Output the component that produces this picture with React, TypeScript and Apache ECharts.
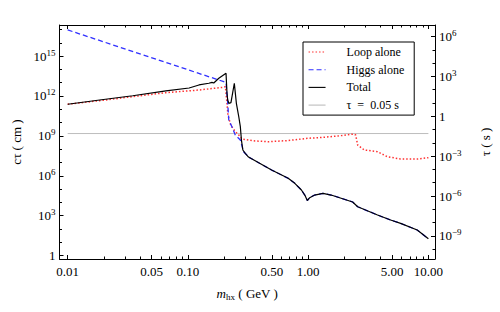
import React, { useEffect, useRef } from 'react';
import * as echarts from 'echarts';

const FONT = '"Liberation Serif", "Times New Roman", serif';

// physical constants used for the secondary axis and the cut line
const C_CM_PER_S = 2.998e10;
const LOG_C = Math.log10(C_CM_PER_S);
const TAU_CUT_S = 0.05;

// points are [log10(m_hx / GeV), log10(c*tau / cm)]
const loopPoints: number[][] = [
  [-2.0, 11.38], [-1.734, 11.65], [-1.459, 11.95], [-1.183, 12.25], [-0.908, 12.45],
  [-0.702, 12.66], [-0.688, 12.7], [-0.683, 12.2], [-0.675, 11.45], [-0.667, 10.57],
  [-0.644, 9.82], [-0.611, 9.37], [-0.577, 9.07], [-0.551, 8.77], [-0.441, 8.62],
  [-0.331, 8.56], [-0.166, 8.65], [-0.001, 8.82], [0.082, 8.86], [0.247, 8.99],
  [0.379, 9.14], [0.395, 9.07], [0.412, 8.31], [0.467, 7.94], [0.577, 7.81],
  [0.659, 7.43], [0.769, 7.26], [0.907, 7.26], [1.0, 7.36],
];

const higgsPoints: number[][] = [
  [-2.0, 16.97], [-0.702, 13.08], [-0.683, 13.02], [-0.669, 11.45], [-0.66, 10.2],
  [-0.634, 9.69], [-0.606, 9.07], [-0.564, 8.69], [-0.537, 7.81], [-0.51, 7.56],
  [-0.496, 7.41], [-0.304, 6.43], [-0.166, 5.81], [-0.111, 5.43], [-0.056, 4.93],
  [-0.028, 4.55], [-0.007, 4.14], [0.013, 4.35], [0.054, 4.55], [0.123, 4.68],
  [0.191, 4.55], [0.37, 4.03], [0.412, 3.67], [0.577, 3.05], [0.686, 2.67],
  [0.769, 2.42], [0.907, 1.92], [1.0, 1.26],
];

const totalPoints: number[][] = [
  [-2.0, 11.38], [-1.734, 11.7], [-1.459, 12.02], [-1.183, 12.38], [-0.99, 12.6],
  [-0.908, 12.83], [-0.826, 12.96], [-0.8, 13.02], [-0.785, 12.98], [-0.743, 13.33],
  [-0.683, 13.71], [-0.675, 12.2], [-0.669, 11.7], [-0.66, 11.45], [-0.642, 11.5],
  [-0.614, 12.96], [-0.597, 11.45], [-0.577, 10.44], [-0.564, 9.69], [-0.555, 8.69],
  [-0.543, 7.94], [-0.523, 7.69], [-0.496, 7.41], [-0.304, 6.43], [-0.166, 5.81],
  [-0.111, 5.43], [-0.056, 4.93], [-0.028, 4.55], [-0.007, 4.14], [0.013, 4.35],
  [0.054, 4.55], [0.123, 4.68], [0.191, 4.55], [0.37, 4.03], [0.412, 3.67],
  [0.577, 3.05], [0.686, 2.67], [0.769, 2.42], [0.907, 1.92], [1.0, 1.26],
];

const massRange = [0.01, 10]; // GeV range of the cut line

// ticks
const xMajorTicks = [0.01, 0.05, 0.1, 0.5, 1, 5, 10];
const xMajorLabels = ['0.01', '0.05', '0.10', '0.50', '1.00', '5.00', '10.00'];
const xMinorTicks = [0.02, 0.03, 0.04, 0.06, 0.07, 0.08, 0.09, 0.2, 0.3, 0.4, 0.6, 0.7, 0.8, 0.9, 2, 3, 4, 6, 7, 8, 9];
const ctMajorExp = [0, 3, 6, 9, 12, 15];
const ctMinorExp = [1, 2, 4, 5, 7, 8, 10, 11, 13, 14, 16, 17];
const tauMajorExp = [-9, -6, -3, 0, 3, 6];
const tauMinorExp = [-10, -8, -7, -5, -4, -2, -1, 1, 2, 4, 5];

const X_MIN = -2.068;
const X_MAX = 1.055;
const Y_MIN = -0.26;
const Y_MAX = 17.34;

const richNum = {
  b: { fontSize: 13, fontFamily: FONT, color: '#000', lineHeight: 16 },
  s: { fontSize: 9, fontFamily: FONT, color: '#000', verticalAlign: 'top', lineHeight: 10 },
};

function supLabel(e: number) {
  if (e === 0) return '{b|1}';
  const t = e < 0 ? '\u2212' + -e : String(e);
  return `{b|10}{s|${t}}`;
}

export default function App() {
  const ref = useRef<HTMLDivElement>(null);
  useEffect(() => {
    if (!ref.current) return;
    const chart = echarts.init(ref.current, null, { renderer: 'svg' });
    const xMajorLog = xMajorTicks.map((v) => Math.log10(v));
    const xMinorLog = xMinorTicks.map((v) => Math.log10(v));
    const tauLog = Math.log10(TAU_CUT_S * C_CM_PER_S);

    const baseX: any = { type: 'value', min: X_MIN, max: X_MAX, splitLine: { show: false } };
    const baseY: any = { type: 'value', min: Y_MIN, max: Y_MAX, splitLine: { show: false } };
    const line = { show: true, onZero: false, lineStyle: { color: '#000', width: 1 } };
    const noLine = { show: false, onZero: false };
    const majorTick = (vals: number[]) => ({ show: true, inside: true, length: 4, customValues: vals, lineStyle: { color: '#000', width: 1 } });
    const minorTick = (vals: number[]) => ({ show: true, inside: true, length: 2.5, customValues: vals, lineStyle: { color: '#000', width: 1 } });

    const option: any = {
      animation: false,
      backgroundColor: '#fff',
      grid: { left: 59.5, right: 62, top: 25, bottom: 53, containLabel: false },
      xAxis: [
        {
          ...baseX, position: 'bottom', axisLine: line, axisTick: majorTick(xMajorLog),
          axisLabel: {
            show: true, customValues: xMajorLog, margin: 6, fontSize: 13, fontFamily: FONT, color: '#000',
            formatter: (v: number) => {
              let best = 0;
              xMajorLog.forEach((lv, i) => { if (Math.abs(lv - v) < Math.abs(xMajorLog[best] - v)) best = i; });
              return xMajorLabels[best];
            },
          },
          name: '{i|m}{sub|hx}{n| ( GeV )}', nameLocation: 'middle', nameGap: 26,
          nameTextStyle: {
            rich: {
              i: { fontStyle: 'italic', fontSize: 13, fontFamily: FONT, color: '#000', lineHeight: 16 },
              sub: { fontSize: 9, fontFamily: FONT, color: '#000', verticalAlign: 'bottom', lineHeight: 12 },
              n: { fontSize: 13, fontFamily: FONT, color: '#000', lineHeight: 16 },
            },
          },
        },
        { ...baseX, position: 'bottom', axisLine: noLine, axisTick: minorTick(xMinorLog), axisLabel: { show: false } },
        { ...baseX, position: 'top', axisLine: line, axisTick: majorTick(xMajorLog), axisLabel: { show: false } },
        { ...baseX, position: 'top', axisLine: noLine, axisTick: minorTick(xMinorLog), axisLabel: { show: false } },
      ],
      yAxis: [
        {
          ...baseY, position: 'left', axisLine: line, axisTick: majorTick(ctMajorExp),
          axisLabel: { show: true, customValues: ctMajorExp, margin: 4, formatter: (v: number) => supLabel(Math.round(v)), rich: richNum },
          name: 'c\u03C4 ( cm )', nameLocation: 'middle', nameRotate: 90, nameGap: 37,
          nameTextStyle: { fontSize: 13, fontFamily: FONT, color: '#000' },
        },
        { ...baseY, position: 'left', axisLine: noLine, axisTick: minorTick(ctMinorExp), axisLabel: { show: false } },
        {
          ...baseY, position: 'right', axisLine: line, axisTick: majorTick(tauMajorExp.map((k) => k + LOG_C)),
          axisLabel: {
            show: true, customValues: tauMajorExp.map((k) => k + LOG_C), margin: 4,
            formatter: (v: number) => supLabel(Math.round(v - LOG_C)), rich: richNum,
          },
          name: '\u03C4 ( s )', nameLocation: 'middle', nameRotate: 90, nameGap: 44,
          nameTextStyle: { fontSize: 13, fontFamily: FONT, color: '#000' },
        },
        { ...baseY, position: 'right', axisLine: noLine, axisTick: minorTick(tauMinorExp.map((k) => k + LOG_C)), axisLabel: { show: false } },
      ],
      legend: {
        orient: 'vertical', left: 303, top: 42, selectedMode: false,
        padding: [4, 10, 4, 5], itemWidth: 17, itemHeight: 12, itemGap: 5.7,
        borderColor: '#000', borderWidth: 1,
        itemStyle: { opacity: 0 },
        lineStyle: { width: 1.1 },
        textStyle: { fontSize: 12, fontFamily: FONT, color: '#000', lineHeight: 12, padding: [0, 0, 0, 16] },
        data: ['Loop alone', 'Higgs alone', 'Total', '\u03C4  =  0.05 s'],
      },
      series: [
        {
          name: '\u03C4  =  0.05 s', type: 'line', showSymbol: false, symbol: 'none', z: 1,
          data: massRange.map((m) => [Math.log10(m), tauLog]),
          lineStyle: { color: '#bdbdbd', width: 1 }, itemStyle: { color: '#bdbdbd' },
        },
        {
          name: 'Loop alone', type: 'line', showSymbol: false, symbol: 'none', z: 2, data: loopPoints,
          lineStyle: { color: '#ff3030', width: 1.5, type: [1.5, 2] }, itemStyle: { color: '#ff3030' },
        },
        {
          name: 'Higgs alone', type: 'line', showSymbol: false, symbol: 'none', z: 3, data: higgsPoints,
          lineStyle: { color: '#3030ff', width: 1.3, type: [5, 3] }, itemStyle: { color: '#3030ff' },
        },
        {
          name: 'Total', type: 'line', showSymbol: false, symbol: 'none', z: 4, data: totalPoints,
          lineStyle: { color: '#000', width: 1.2 }, itemStyle: { color: '#000' },
        },
      ],
    };
    chart.setOption(option);
    return () => chart.dispose();
  }, []);
  return <div ref={ref} style={{ position: 'fixed', left: 0, top: 0, width: 500, height: 312, background: '#fff' }} />;
}
